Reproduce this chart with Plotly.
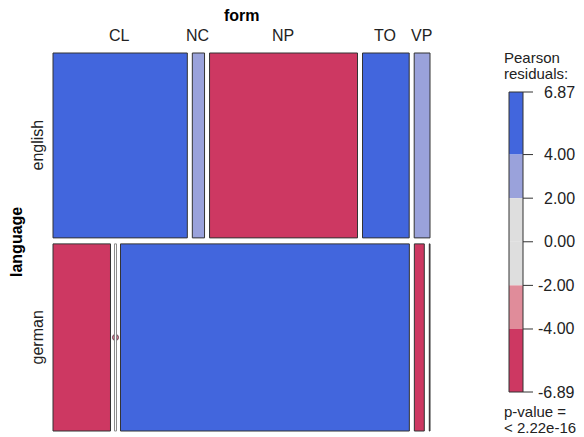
import plotly.graph_objects as go

# ---------------- data ----------------
forms = ["CL", "NC", "NP", "TO", "VP"]
languages = ["english", "german"]
english_counts = [187, 17, 206, 65, 22]
german_counts = [81, 0, 407, 14, 1]
english_resid = [5.3, 3.1, -6.89, 4.5, 3.0]
german_resid = [-5.3, -3.1, 6.87, -4.5, -4.2]
legend_breaks = [6.87, 4.0, 2.0, 0.0, -2.0, -4.0, -6.89]
legend_labels = ["6.87", "4.00", "2.00", "0.00", "-2.00", "-4.00", "-6.89"]
p_value_text = "< 2.22e-16"

# ---------------- styling ----------------
W, H = 584, 437
OFF = 8  # page body margin
FONT = "Liberation Sans, Arial, sans-serif"
FS = 16
C_BLUE = "#4266DD"
C_LBLUE = "#9AA2DB"
C_GRAY = "#DEDEDE"
C_LRED = "#E08C9A"
C_RED = "#CD3862"
BORDER = "#333333"
TXT = "#222222"

def shade(r):
    if r > 4:
        return C_BLUE
    if r > 2:
        return C_LBLUE
    if r >= -2:
        return C_GRAY
    if r >= -4:
        return C_LRED
    return C_RED

# mosaic area (window pixel axes)
MX0, MX1 = 53, 430
MY0, MY1 = 53, 431
XGAP, YGAP = 5, 6

rows = [english_counts, german_counts]
resids = [english_resid, german_resid]
row_tot = [sum(r) for r in rows]
grand = sum(row_tot)
avail_h = (MY1 - MY0) - YGAP * (len(rows) - 1)
avail_w = (MX1 - MX0) - XGAP * (len(forms) - 1)

shapes = []
annotations = []
fig = go.Figure()

y = MY0
row_centers = []
first_row_centers = []
for ri, (counts, res) in enumerate(zip(rows, resids)):
    h = avail_h * row_tot[ri] / grand
    x = MX0
    for ci, (c, r) in enumerate(zip(counts, res)):
        w = avail_w * c / row_tot[ri]
        if c == 0:
            shapes.append(dict(type="rect", xref="x", yref="y", x0=x - 1, x1=x + 1,
                               y0=y, y1=y + h, fillcolor="white",
                               line=dict(color="#8A8A8A", width=1)))
            fig.add_trace(go.Scatter(x=[x], y=[y + h / 2], mode="markers",
                                     marker=dict(size=6, color="#D67A92",
                                                 line=dict(color="#6A4A55", width=1)),
                                     hoverinfo="skip", showlegend=False))
        else:
            shapes.append(dict(type="rect", xref="x", yref="y", x0=x, x1=x + w,
                               y0=y, y1=y + h, fillcolor=shade(r),
                               line=dict(color=BORDER, width=1)))
        if ri == 0:
            first_row_centers.append(x + w / 2)
        x += w + XGAP
    row_centers.append(y + h / 2)
    y += h + YGAP

# column labels
for name, cx in zip(forms, first_row_centers):
    annotations.append(dict(x=cx - 1, y=35, xref="x", yref="y", text=name, showarrow=False,
                            font=dict(family=FONT, size=FS, color=TXT)))
annotations.append(dict(x=(MX0 + MX1) / 2, y=15, xref="x", yref="y", text="<b>form</b>",
                        showarrow=False, font=dict(family=FONT, size=FS, color="black")))
# row labels
for name, cy in zip(languages, row_centers):
    annotations.append(dict(x=37, y=cy, xref="x", yref="y", text=name, showarrow=False,
                            textangle=-90, font=dict(family=FONT, size=FS, color=TXT)))
annotations.append(dict(x=16, y=(MY0 + MY1) / 2, xref="x", yref="y", text="<b>language</b>",
                        showarrow=False, textangle=-90,
                        font=dict(family=FONT, size=FS, color="black")))

# legend (colour key)
LX0, LX1 = 509, 523
LY_TOP, LY_BOT = 92, 392
vmax, vmin = legend_breaks[0], legend_breaks[-1]

def ly(v):
    return LY_TOP + (vmax - v) / (vmax - vmin) * (LY_BOT - LY_TOP)

for hi, lo in zip(legend_breaks[:-1], legend_breaks[1:]):
    shapes.append(dict(type="rect", xref="x", yref="y", x0=LX0, x1=LX1, y0=ly(hi), y1=ly(lo),
                       fillcolor=shade((hi + lo) / 2), line=dict(width=0)))
shapes.append(dict(type="rect", xref="x", yref="y", x0=LX0, x1=LX1, y0=LY_TOP, y1=LY_BOT,
                   fillcolor="rgba(0,0,0,0)", line=dict(color=BORDER, width=1)))
for v, lab in zip(legend_breaks, legend_labels):
    shapes.append(dict(type="line", xref="x", yref="y", x0=LX1, x1=533, y0=ly(v), y1=ly(v),
                       line=dict(color=BORDER, width=1)))
    annotations.append(dict(x=577, y=ly(v), xref="x", yref="y", text=lab, showarrow=False,
                            xanchor="right", font=dict(family=FONT, size=FS, color=TXT)))
for txt, yy in [("Pearson", 57), ("residuals:", 73),
                ("p-value =", 411), (p_value_text.replace("<", "&lt;"), 427)]:
    annotations.append(dict(x=502, y=yy, xref="x", yref="y", text=txt,
                            showarrow=False, xanchor="left",
                            font=dict(family=FONT, size=15, color=TXT)))

fig.update_layout(
    width=W - OFF, height=H - OFF,
    margin=dict(l=0, r=0, t=0, b=0),
    paper_bgcolor="white", plot_bgcolor="white",
    xaxis=dict(range=[OFF, W], visible=False, fixedrange=True),
    yaxis=dict(range=[H, OFF], visible=False, fixedrange=True),
    shapes=shapes, annotations=annotations, showlegend=False,
)
fig.write_html("out.html")
